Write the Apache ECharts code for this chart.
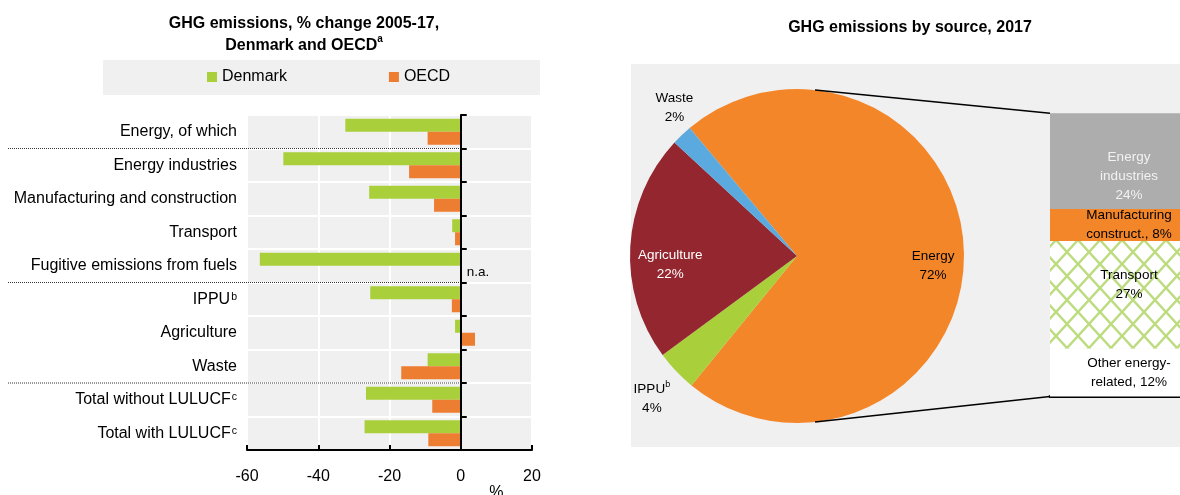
<!DOCTYPE html>
<html>
<head>
<meta charset="utf-8">
<script src="https://cdn.jsdelivr.net/npm/echarts@6/dist/echarts.min.js"></script>
<style>
html, body { margin: 0; padding: 0; background: #fff; }
#main { width: 1180px; height: 495px; }
</style>
</head>
<body>
<div id="main"></div>
<script>
// left panel: % change 2005-17
var categories = ['Energy, of which', 'Energy industries', 'Manufacturing and construction', 'Transport',
	'Fugitive emissions from fuels', 'IPPU', 'Agriculture', 'Waste', 'Total without LULUCF', 'Total with LULUCF'];
var notes = ['', '', '', '', '', 'b', '', '', 'c', 'c'];
var denmark = [-32.4, -49.8, -25.7, -2.4, -56.4, -25.4, -1.6, -9.3, -26.6, -27.0];
var oecd = [-9.3, -14.5, -7.5, -1.6, null, -2.5, 4.0, -16.7, -8.0, -9.1];
var groupEnds = [0, 4, 7];
var xTicks = [-60, 20, 20]; // min, max, step

// right panel: emissions by source 2017
var sources = ['Energy', 'IPPU', 'Agriculture', 'Waste'];
var sourceNotes = ['', 'b', '', ''];
var sourceShares = [72, 4, 22, 2];
var energyParts = ['Energy industries', 'Manufacturing construct.', 'Transport', 'Other energy-related'];
var energyLabels = ['Energy\nindustries\n{c}%', 'Manufacturing\nconstruct., {c}%', 'Transport\n{c}%', 'Other energy-\nrelated, {c}%'];
var energyShares = [24, 8, 27, 12];

var FONT = "'Liberation Sans', Arial, sans-serif";
var FS = 16, FS_SMALL = 13.5;
var green = '#a9cf3b', orange = '#ed7d31';

var pieCenter = [797, 256], pieR = 167, pieStart = 130;
var labelRadius = [0.815, 1.2, 0.76, 1.16];
var labelShift = [[0, 11], [0, 5], [0, 16], [11, -8]];
var barLeft = 1050, barTop = 113.3, barH = 283.3;

function hatch() {
	var w = 22, h = 24;
	var c = document.createElement('canvas');
	c.width = w; c.height = h;
	var g = c.getContext('2d');
	g.fillStyle = '#fff';
	g.fillRect(0, 0, w, h);
	g.strokeStyle = '#bddc80';
	g.lineWidth = 2.5;
	g.beginPath();
	[-w, 0, w].forEach(function(dx) {
		g.moveTo(dx, 0); g.lineTo(dx + w, h);
		g.moveTo(dx + w, 0); g.lineTo(dx, h);
	});
	g.stroke();
	return c;
}

var chart = echarts.init(document.getElementById('main'));

var oecdData = oecd.map(function(v) {
	if (v === null) {
		return {value: 0, label: {show: true, position: 'right', distance: 6, formatter: 'n.a.', fontSize: FS_SMALL, color: '#000'}};
	}
	return v;
});

var total = sourceShares.reduce(function(a, b) { return a + b; }, 0);
var partColors = ['#adadad', '#f4862a', {image: hatch(), repeat: 'repeat'}, '#ffffff'];
var partText = ['#f2f2f2', '#000', '#000', '#000'];
var partOffset = [[0, 15], [0, 0], [0, -10], [0, 0]];

var option = {
	animation: false,
	textStyle: {fontFamily: FONT},
	title: [{
		text: '{t|GHG emissions, % change 2005-17,}\n{t|Denmark and OECD}{s|a}',
		left: 304,
		top: 12,
		padding: 0,
		textAlign: 'center',
		textStyle: {
			rich: {
				t: {fontSize: FS, fontWeight: 'bold', color: '#000', lineHeight: 22.5, fontFamily: FONT},
				s: {fontSize: 10, color: '#000', verticalAlign: 'top', lineHeight: 22.5, fontFamily: FONT}
			}
		}
	}, {
		text: 'GHG emissions by source, 2017',
		left: 910,
		top: 20,
		padding: 0,
		textAlign: 'center',
		textStyle: {fontSize: FS, fontWeight: 'bold', color: '#000', fontFamily: FONT}
	}],
	legend: {
		data: ['Denmark', 'OECD'],
		left: 207,
		top: 69,
		padding: 0,
		itemGap: 102,
		itemWidth: 10,
		itemHeight: 10,
		icon: 'rect',
		textStyle: {fontSize: FS, color: '#000', fontFamily: FONT}
	},
	grid: [{
		left: 247, top: 115, width: 285, height: 335,
		outerBoundsMode: 'none', containLabel: false,
		show: true, backgroundColor: '#f0f0f0', borderWidth: 0
	}, {
		left: barLeft, top: barTop, width: 158, height: barH,
		outerBoundsMode: 'none', containLabel: false,
		show: false
	}],
	xAxis: [{
		type: 'value', gridIndex: 0,
		min: xTicks[0], max: xTicks[1], interval: xTicks[2],
		axisLine: {show: true, onZero: false, lineStyle: {color: '#000', width: 2}},
		axisTick: {show: true, inside: true, length: 5, lineStyle: {color: '#000', width: 2}},
		axisLabel: {fontSize: FS, color: '#000', margin: 19, fontFamily: FONT},
		splitLine: {show: true, lineStyle: {color: '#fff', width: 2}}
	}, {
		type: 'category', gridIndex: 1, data: ['Energy'],
		axisLine: {show: true, onZero: false, lineStyle: {color: '#000', width: 3}},
		axisTick: {show: false},
		axisLabel: {show: false},
		splitLine: {show: false}
	}],
	yAxis: [{
		type: 'category', gridIndex: 0, data: categories, inverse: true, position: 'left',
		axisLine: {show: false, onZero: false},
		axisTick: {show: false},
		axisLabel: {
			fontSize: FS, color: '#000', margin: 10, fontFamily: FONT,
			formatter: function(v, i) {
				return '{n|' + v + '}' + (notes[i] ? '{s|' + notes[i] + '}' : '');
			},
			rich: {
				n: {fontSize: FS, color: '#000', fontFamily: FONT},
				s: {fontSize: 10.5, color: '#000', verticalAlign: 'top', padding: [0, 0, 5, 1], fontFamily: FONT}
			}
		},
		splitLine: {show: true, lineStyle: {color: '#fff', width: 2}}
	}, {
		type: 'category', gridIndex: 0, data: categories, inverse: true, position: 'left', z: 5,
		axisLine: {show: true, onZero: true, lineStyle: {color: '#000', width: 2}},
		axisTick: {show: true, inside: true, length: 6, lineStyle: {color: '#000', width: 2}},
		axisLabel: {show: false},
		splitLine: {show: false}
	}, {
		type: 'value', gridIndex: 1, min: 0, max: 71, inverse: true, show: false
	}],
	series: [{
		name: 'Denmark', type: 'bar', xAxisIndex: 0, yAxisIndex: 0,
		barWidth: 13, barGap: '0%',
		itemStyle: {color: green},
		data: denmark
	}, {
		name: 'OECD', type: 'bar', xAxisIndex: 0, yAxisIndex: 0,
		barWidth: 13, barGap: '0%',
		itemStyle: {color: orange},
		data: oecdData
	}, {
		name: 'Sources', type: 'pie', silent: true,
		center: pieCenter, radius: pieR,
		startAngle: pieStart, clockwise: true,
		avoidLabelOverlap: false,
		data: sources.map(function(s, i) {
			return {
				name: s, value: sourceShares[i],
				itemStyle: {color: ['#f4862a', green, '#93262f', '#5aaadf'][i]},
				label: {color: i === 2 ? '#fff' : '#000'}
			};
		}),
		label: {
			show: true, position: 'inside', fontSize: FS_SMALL, lineHeight: 19, fontFamily: FONT,
			formatter: function(p) {
				var n = sourceNotes[p.dataIndex];
				return '{n|' + p.name + '}' + (n ? '{s|' + n + '}' : '') + '\n{n|' + p.value + '%}';
			},
			rich: {
				n: {fontSize: FS_SMALL, lineHeight: 19, fontFamily: FONT},
				s: {fontSize: 9, lineHeight: 19, verticalAlign: 'top', fontFamily: FONT}
			}
		},
		labelLine: {show: false},
		labelLayout: function(p) {
			var i = p.dataIndex, before = 0;
			for (var j = 0; j < i; j++) before += sourceShares[j];
			var mid = (before + sourceShares[i] / 2) / total * 360;
			var a = (pieStart - mid) * Math.PI / 180;
			return {
				x: pieCenter[0] + Math.cos(a) * pieR * labelRadius[i] + labelShift[i][0],
				y: pieCenter[1] - Math.sin(a) * pieR * labelRadius[i] + labelShift[i][1],
				align: 'center', verticalAlign: 'middle'
			};
		}
	}].concat(energyParts.map(function(name, i) {
		return {
			name: name, type: 'bar', stack: 'energy', silent: true,
			xAxisIndex: 1, yAxisIndex: 2, barWidth: '100%',
			itemStyle: {color: partColors[i]},
			label: {
				show: true, position: 'inside', formatter: energyLabels[i],
				fontSize: FS_SMALL, lineHeight: 19, color: partText[i], fontFamily: FONT,
				offset: partOffset[i]
			},
			data: [energyShares[i]]
		};
	}))
};
chart.setOption(option);

// decorations placed from the drawn axes
var x0 = chart.convertToPixel({xAxisIndex: 0}, 0);
var yBottom = 115 + 335;
var els = [{
	type: 'rect', z: 0, shape: {x: 103, y: 60, width: 437, height: 35}, style: {fill: '#f0f0f0'}
}, {
	type: 'rect', z: 0, shape: {x: 631, y: 64, width: 560, height: 383}, style: {fill: '#f0f0f0'}
}, {
	type: 'text', z: 5, x: chart.convertToPixel({xAxisIndex: 0}, 10), y: yBottom + 43,
	style: {text: '%', fontSize: FS, fontFamily: FONT, fill: '#000', align: 'center', verticalAlign: 'middle'}
}];
groupEnds.forEach(function(i) {
	var y = (chart.convertToPixel({yAxisIndex: 0}, i) + chart.convertToPixel({yAxisIndex: 0}, i + 1)) / 2;
	els.push({
		type: 'line', z: 5, shape: {x1: 8, y1: y, x2: x0, y2: y},
		style: {stroke: '#333', lineWidth: 1, lineDash: [1, 1]}
	});
});
var sumParts = energyShares.reduce(function(a, b) { return a + b; }, 0);
var tipA = 6.2 * Math.PI / 180;
var tipX = pieCenter[0] + Math.sin(tipA) * pieR;
[[pieCenter[1] - Math.cos(tipA) * pieR, 0], [pieCenter[1] + Math.cos(tipA) * pieR, sumParts]].forEach(function(p) {
	els.push({
		type: 'line', z: 5,
		shape: {x1: tipX, y1: p[0], x2: barLeft, y2: chart.convertToPixel({yAxisIndex: 2}, p[1])},
		style: {stroke: '#000', lineWidth: 1.5}
	});
});
chart.setOption({graphic: {elements: els}});
</script>
</body>
</html>
